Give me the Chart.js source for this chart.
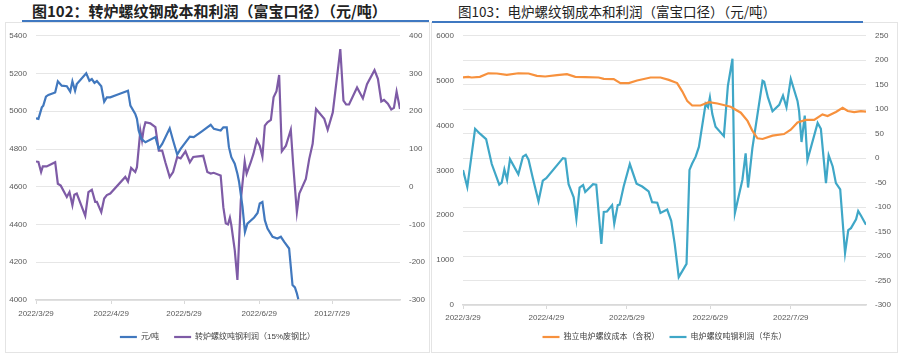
<!DOCTYPE html>
<html>
<head>
<meta charset="utf-8">
<script src="https://cdn.jsdelivr.net/npm/chart.js@4.4.1/dist/chart.umd.min.js"></script>
<style>
  body { margin: 0; background: #fff; width: 900px; height: 360px; position: relative; overflow: hidden; }
  .panel { position: absolute; border: 1px solid #e4e4e4; box-sizing: border-box; }
  .title { position: absolute; white-space: nowrap; font-family: "Noto Sans CJK SC", sans-serif; color: #222; line-height: 1; }
  .rule { position: absolute; height: 2px; background: #3f78c1; }
  canvas { position: absolute; }
</style>
</head>
<body>
<div class="panel" style="left:5px;top:22px;width:425px;height:331px"></div>
<div class="panel" style="left:431px;top:22px;width:467px;height:331px"></div>
<div class="title" style="left:32px;top:3px;font-size:15px;font-weight:bold">图102：转炉螺纹钢成本和利润（富宝口径）（元/吨）</div>
<div class="title" style="left:458px;top:5px;font-size:13.5px">图103：电炉螺纹钢成本和利润（富宝口径）（元/吨）</div>
<div class="rule" style="left:22px;top:20px;width:407px"></div>
<div class="rule" style="left:432px;top:21px;width:431px"></div>
<canvas id="bofChart" width="425" height="330" style="left:5px;top:22px"></canvas>
<canvas id="eafChart" width="465" height="330" style="left:432px;top:22px"></canvas>
<script>
// ======= 数据（x = 自 2022/3/29 起的天数） =======
const xTickDays = [0, 31, 61, 92, 122];
const bofDateLabels = ["2022/3/29", "2022/4/29", "2022/5/29", "2022/6/29", "2012/7/29"];
const eafDateLabels = ["2022/3/29", "2022/4/29", "2022/5/29", "2022/6/29", "2022/7/29"];

// 图102 转炉：元/吨（左轴）
const bofCostDays = [0,1,2.4,3,4.1,5.1,7.9,9,10.6,12.7, 14.1,15,16.1,16.8,20.7,22,23,24.1,25.1,26.9,
  28.1,29.2,30.6,34,37.9,38.9,40.9,41.6,42.3,43.4, 45.1,49.2,50.6,52,55.1,56.5,58.2,59.6,63.4,65,
  68.5,72,73.3,76.1,77.2,78.6,79.5,80.5,81.9,83, 83.7,85.1,86.1,87.1,89.9,91.3,92.2,93.3,94.3,95.4,
  97.5,99.5,100.9,102.3,104.3,105.7,106.7,107.5,108.1];
const bofCost = [4963,4960,5021,5030,5078,5087,5100,5159,5136,5133, 5104,5159,5109,5144,5201,5162,5171,5150,5160,5133,
  5051,5074,5074,5090,5109,5030,4986,4960,4898,4854, 4836,4863,4801,4827,4910,4845,4771,4801,4866,4863,
  4895,4928,4907,4898,4915,4915,4810,4757,4722,4669, 4625,4493,4361,4405,4437,4461,4511,4519,4423,4379,
  4335,4326,4335,4308,4273,4079,4067,4035,4004];

// 图102 转炉螺纹吨钢利润（右轴）
const bofProfitDays = [0,1,2.1,2.8,4.4,7.9,9,10.2,12.7,13.8, 15,15.8,16.8,20.3,21.6,23,24.4,25.1,26.9,28.1,
  29.2,30.6,36.8,37.9,39.2,40.9,41.6,43,43.7,44.4, 45.1,47.1,49.2,50.6,52,53.3,55.1,56.5,58.2,59.6,
  61.6,63.4,64.8,68.9,70.6,72,73.2,76.1,77.2,78.2, 79.1,79.9,80.5,81.9,83,84.4,86,86.8,88.5,89.6,
  91,92.2,93.3,94.3,95.4,96.8,97.9,99.1,100.2,101.3, 103,105,106,107.5,108.5,111.2,112.6,114,115.4,118.8,
  120.2,122.3,123.7,125.4,126.7,127.8,129,132.3,134.7,136.4, 139.5,140.9,142.3,143.4,145,146.4,147.5,148.6,150];
const bofProfit = [67,66,39,54,54,65,8,3,-27,-14, -49,-21,-18,-77,-14,-8,-40,-40,-67,-31,
  -22,-18,26,14,50,39,52,149,123,154, 171,168,158,96,96,65,26,39,79,75,
  94,65,79,82,39,35,37,30,-54,-97, -100,-82,-102,-168,-247,-36,67,35,65,87,
  124,109,80,162,171,177,237,253,296,94, 109,151,57,-67,-18,21,74,114,206,180,
  151,197,272,365,228,218,218,263,234,272, 309,286,226,230,220,205,209,252,206];

// 图103 独立电炉螺纹成本（含税）（左轴）
const eafCostDays = [0,2,3.2,6.3,9.4,12.6,16.3,20.6,24.4,27.5, 30.6,35,38.7,41.8,45.5,50.5,52.4,56.1,58.6,61.7,
  64.8,69.8,73.5,76.6,79.7,81.6,83.5,85.3,88.4,91.5, 94.7,99.6,103.4,105.9,107.7,109.6,111.5,115.2,119.5,122,
  124.5,127.6,130.7,133.8,135.7,138.8,141.3,143.2,145.6,148.1, 150];
const eafCost = [5071,5086,5071,5086,5165,5160,5128,5165,5160,5106, 5093,5123,5145,5086,5077,5071,5040,5035,4946,4946,
  5005,5071,5071,5018,4946,4763,4543,4447,4447,4521, 4491,4418,4286,4103,3884,3715,3700,3774,3810,3906,
  4066,4125,4125,4249,4212,4301,4396,4323,4301,4323, 4308];

// 图103 电炉螺纹吨钢利润（华东）（右轴）
const eafProfitDays = [0,1.6,4.5,6.3,8.6,10.7,13.5,14.4,15.4,16.4, 17.5,20.6,22.3,23.4,24.4,26,28.1,29.7,31,37.2,
  38.1,39.3,41.2,42.2,43.4,44.7,45.5,48.4,49.6,51.5, 52.4,53.6,55.5,56.3,57.6,58.3,59.8,62.1,64.6,66.7,
  69.1,70.4,72.3,73.5,76,77.5,78.8,80.3,83.2,84.3, 85.3,86.6,87.8,90.3,91.2,91.9,92.8,94,97.1,98.6,
  100.3,101.2,104,105.2,106.1,107.7,111.5,112.1,113.5,115.2, 117.7,119.1,120.4,122,124.5,125.1,126,127.2,128.2,132,
  133.2,135.1,136.1,137.6,138.8,140.4,142.2,143.4,144.4,146.3, 147.1,148.1,150];
const eafProfit = [-24,-59,60,50,39,-12,-54,-50,-23,-44, -2,-33,3,7,-3,-41,-88,-46,-41,0,
  -1,-53,-80,-124,-60,-55,-69,-53,-54,-175, -110,-109,-96,-134,-96,-95,-58,-12,-52,-58,
  -68,-90,-91,-112,-105,-128,-175,-243,-216,-24, -11,3,23,111,104,124,90,64,45,148,
  203,-112,-44,10,-60,20,158,156,124,96, 109,128,104,162,117,96,33,87,-4,72,
  60,-51,6,-17,-51,-64,-194,-147,-143,-125, -108,-117,-136];

// ======= 样式 =======
const tickFont = { family: "'Liberation Sans', 'Noto Sans CJK SC', sans-serif", size: 8 };
const legendFont = { family: "'Liberation Sans', 'Noto Sans CJK SC', sans-serif", size: 8 };
const tickColor = "#595959";
const gridColor = "#e6e6e6";

const pts = (xs, ys) => xs.map((x, i) => ({ x: x, y: ys[i] }));

function lineSet(label, xs, ys, color, axis) {
    return {
        label: label,
        data: pts(xs, ys),
        borderColor: color,
        backgroundColor: color,
        borderWidth: 2.2,
        pointRadius: 0,
        tension: 0,
        yAxisID: axis
    };
}

// x 轴：线性天数，只在每月 29 日放刻度
function xScale(labels, pad) {
    return {
        type: "linear",
        min: 0,
        max: 150,
        afterBuildTicks: (s) => { s.ticks = xTickDays.map(v => ({ value: v })); },
        afterFit: (s) => { s.height = 18; },
        grid: { drawOnChartArea: false, drawTicks: true, tickLength: 4, color: "#d9d9d9" },
        border: { display: true, color: "#d9d9d9", width: 1.5 },
        ticks: {
            autoSkip: false, maxRotation: 0, padding: pad,
            font: tickFont, color: tickColor,
            callback: (v, i) => labels[i]
        }
    };
}

function yScale(pos, min, max, step, width, showGrid) {
    return {
        position: pos,
        min: min,
        max: max,
        afterFit: (s) => { s.width = width; },
        grid: { display: showGrid, drawTicks: false, color: gridColor },
        border: { display: false },
        ticks: {
            stepSize: step, padding: 9, font: tickFont, color: tickColor,
            callback: (v) => String(v)   // 不要千位逗号
        }
    };
}

function legendOpts(pad) {
    return {
        position: "bottom",
        labels: {
            usePointStyle: true,
            pointStyle: "line",
            pointStyleWidth: 17,
            padding: pad,
            font: legendFont,
            color: "#404040"
        }
    };
}

// ======= 图102 =======
new Chart(document.getElementById("bofChart"), {
    type: "line",
    data: {
        datasets: [
            lineSet("元/吨", bofCostDays, bofCost, "#4178be", "y"),
            lineSet("转炉螺纹吨钢利润（15%废钢比）", bofProfitDays, bofProfit, "#7e5ba6", "y1")
        ]
    },
    options: {
        responsive: false,
        animation: false,
        layout: { padding: { top: 13, bottom: 1, left: 0, right: 0 } },
        scales: {
            x: xScale(bofDateLabels, 5),
            y: yScale("left", 4000, 5400, 200, 31, true),
            y1: yScale("right", -300, 400, 100, 30, false)
        },
        plugins: { legend: legendOpts(15), tooltip: { enabled: false } }
    }
});

// ======= 图103 =======
new Chart(document.getElementById("eafChart"), {
    type: "line",
    data: {
        datasets: [
            lineSet("独立电炉螺纹成本（含税）", eafCostDays, eafCost, "#f7913d", "y"),
            lineSet("电炉螺纹吨钢利润（华东）", eafProfitDays, eafProfit, "#3fa7c7", "y1")
        ]
    },
    options: {
        responsive: false,
        animation: false,
        layout: { padding: { top: 10.7, bottom: 1, left: 0, right: 0 } },
        scales: {
            x: xScale(eafDateLabels, 4),
            y: yScale("left", 0, 6000, 1000, 31, false),
            y1: yScale("right", -300, 250, 50, 31, true)
        },
        plugins: { legend: legendOpts(10), tooltip: { enabled: false } }
    }
});
</script>
</body>
</html>
